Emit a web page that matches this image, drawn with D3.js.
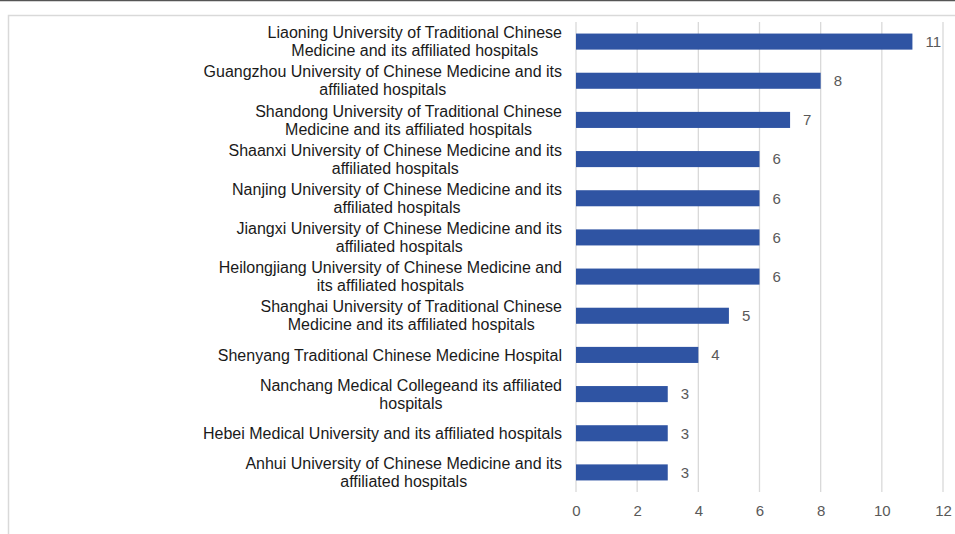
<!DOCTYPE html>
<html>
<head>
<meta charset="utf-8">
<script src="https://cdn.jsdelivr.net/npm/d3@7"></script>
<style>
  body { margin: 0; background: #fff; }
  svg { display: block; font-family: "Liberation Sans", Arial, sans-serif; }
</style>
</head>
<body>
<svg id="chart" width="955" height="534"></svg>
<script>
// categories, top to bottom (line breaks as in the original)
const categories = [
  "Liaoning University of Traditional Chinese|Medicine and its affiliated hospitals",
  "Guangzhou University of Chinese Medicine and its|affiliated hospitals",
  "Shandong University of Traditional Chinese|Medicine and its affiliated hospitals",
  "Shaanxi University of Chinese Medicine and its|affiliated hospitals",
  "Nanjing University of Chinese Medicine and its|affiliated hospitals",
  "Jiangxi University of Chinese Medicine and its|affiliated hospitals",
  "Heilongjiang University of Chinese Medicine and|its affiliated hospitals",
  "Shanghai University of Traditional Chinese|Medicine and its affiliated hospitals",
  "Shenyang Traditional Chinese Medicine Hospital",
  "Nanchang Medical Collegeand its affiliated|hospitals",
  "Hebei Medical University and its affiliated hospitals",
  "Anhui University of Chinese Medicine and its|affiliated hospitals"
];
const counts = [11, 8, 7, 6, 6, 6, 6, 5, 4, 3, 3, 3];
const xTicks = [0, 2, 4, 6, 8, 10, 12];

const svg = d3.select("#chart");

// page frame
svg.append("line").attr("x1", 0).attr("x2", 955).attr("y1", 0.5).attr("y2", 0.5)
  .attr("stroke", "#555").attr("stroke-width", 1.5);
svg.append("rect").attr("x", 8.5).attr("y", 15.5).attr("width", 960).attr("height", 540)
  .attr("fill", "none").attr("stroke", "#d9d9d9").attr("stroke-width", 1.5);

const x = d3.scaleLinear().domain([0, 12]).range([576, 943]);
const y = d3.scaleBand().domain(d3.range(categories.length)).range([22, 492]).paddingInner(0.59).paddingOuter(0.295);

// gridlines
svg.append("g").selectAll("line").data(xTicks).join("line")
  .attr("x1", d => x(d)).attr("x2", d => x(d))
  .attr("y1", 22).attr("y2", 492)
  .attr("stroke", "#d9d9d9").attr("stroke-width", 1.3);

// x axis tick labels
const xAxis = d3.axisBottom(x).tickValues(xTicks).tickSize(0).tickPadding(0);
const gx = svg.append("g").attr("transform", "translate(0,505)").call(xAxis);
gx.select(".domain").remove();
gx.selectAll("text").attr("fill", "#595959").style("font-size", "15px")
  .style("font-family", "'Liberation Sans', Arial, sans-serif");

// bars
svg.append("g").selectAll("rect").data(counts).join("rect")
  .attr("x", x(0))
  .attr("y", (d, i) => y(i))
  .attr("width", d => x(d) - x(0))
  .attr("height", y.bandwidth())
  .attr("fill", "#2f54a3");

// value labels
svg.append("g").selectAll("text").data(counts).join("text")
  .attr("x", d => x(d) + 13)
  .attr("y", (d, i) => y(i) + y.bandwidth() / 2)
  .attr("dy", "0.35em")
  .attr("fill", "#595959")
  .style("font-size", "15px")
  .text(d => d);

// category labels: block right-aligned, lines centred within block
const lab = svg.append("g").selectAll("g").data(categories).join("g");
lab.each(function(d, i) {
  const lines = d.split("|");
  const cy = y(i) + y.bandwidth() / 2;
  const lh = 18;
  const g = d3.select(this);
  const texts = lines.map((ln, k) => g.append("text")
    .attr("y", cy + (k - (lines.length - 1) / 2) * lh)
    .attr("dy", "0.35em")
    .attr("text-anchor", "middle")
    .attr("fill", "#1a1a1a")
    .style("font-size", "16px")
    .text(ln));
  const w = d3.max(texts, t => t.node().getComputedTextLength());
  texts.forEach(t => t.attr("x", 562 - w / 2));
});
</script>
</body>
</html>
